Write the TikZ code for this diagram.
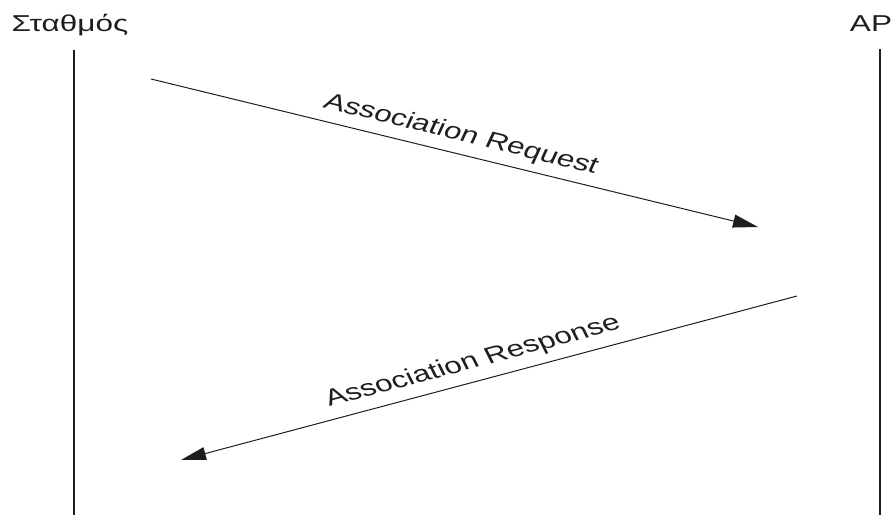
\documentclass[tikz,border=0pt]{standalone}
\usepackage{fontspec}
\setmainfont{Liberation Sans}
\usetikzlibrary{arrows.meta}
\definecolor{ink}{RGB}{30,30,30}
\newcommand{\labelfont}{\fontsize{23}{28}\selectfont}
\tikzset{
  lifeline/.style={line width=1.3pt, ink},
  msg/.style={line width=1pt, ink, -{Triangle[length=25pt,width=13pt]}},
  actor/.style={font=\labelfont, text=ink, xscale=1.37, anchor=base, inner sep=0pt},
  msglabel/.style={font=\labelfont, text=ink, inner sep=0pt},
}

\begin{document}
\begin{tikzpicture}[x=1pt, y=-1pt]
\useasboundingbox (0,0) rectangle (894,515);
% actors and lifelines
\node[actor] (sta) at (70,31) {Σταθμός};
\node[actor] (ap) at (871,31) {AP};
\coordinate (staTop) at (74,50);
\coordinate (staBot) at (74,515);
\coordinate (apTop) at (880,49);
\coordinate (apBot) at (880,515);
\draw[lifeline] (staTop)--(staBot);
\draw[lifeline] (apTop)--(apBot);
% messages
\coordinate (reqFrom) at (151,79);
\coordinate (reqTo) at (758,227);
\coordinate (resFrom) at (797,296);
\coordinate (resTo) at (181,460);
\draw[msg] (reqFrom)--(reqTo);
\draw[msg] (resFrom)--(resTo);
\node[msglabel, xscale=1.37, rotate=-18.5] (req) at (461,135) {Association Request};
\node[msglabel, xscale=1.37, rotate=20.1] (res) at (473,362) {Association Response};
\end{tikzpicture}
\end{document}
